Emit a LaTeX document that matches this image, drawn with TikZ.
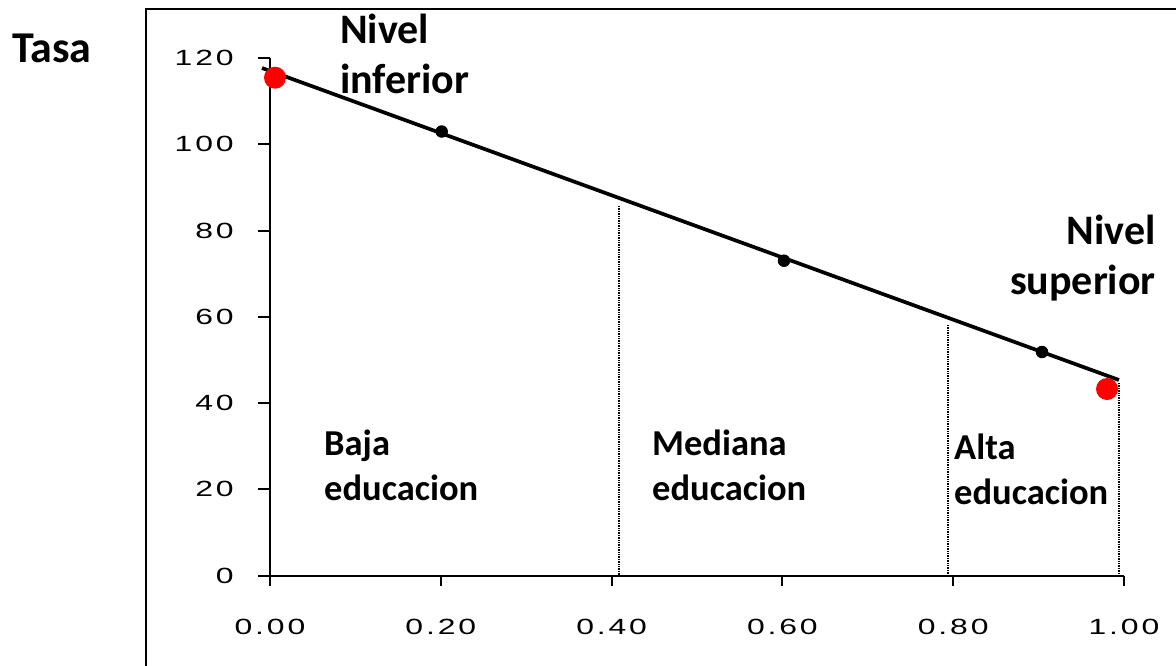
\documentclass[tikz,border=0pt]{standalone}
\usepackage{fontspec}
\setmainfont{Carlito}
\newfontfamily\tickfont[LetterSpace=9]{Liberation Sans}
\begin{document}
\begin{tikzpicture}[x=1pt,y=-1pt,
  frame/.style={line width=2.5pt},
  axisline/.style={line width=2pt},
  mainline/.style={line width=3.7pt},
  guide/.style={line width=1.3pt,dash pattern=on 1.3pt off 1.1pt},
  blackdot/.style={circle,fill=black,inner sep=0pt,minimum size=12.5pt},
  reddot/.style={circle,fill=red,inner sep=0pt,minimum size=22pt},
  ticklab/.style={font=\tickfont\fontsize{22}{26}\selectfont,xscale=1.45,inner sep=0pt},
  biglab/.style={font=\bfseries\fontsize{42}{50}\selectfont,inner sep=0pt,align=left},
  midlab/.style={font=\bfseries\fontsize{36.5}{45}\selectfont,inner sep=0pt,align=left}]
\useasboundingbox (0,0) rectangle (1176,665);
\fill[white] (0,0) rectangle (1176,665);
\draw[frame] (146,9) rectangle (1200,700);
% axes
\coordinate (O) at (270,575.7);
\coordinate (Ytop) at (270,57.7);
\coordinate (Xend) at (1124,575.7);
\draw[axisline] (Ytop) -- (O) -- (Xend);
\foreach \v/\lab in {0/0,20/20,40/40,60/60,80/80,100/100,120/120}{
  \coordinate (yt\v) at (270,{575.7-4.315*\v});
  \draw[axisline] (yt\v) -- ++(-12,0);
  \node[ticklab,anchor=east] (yl\v) at (234,{575.7-4.315*\v}) {\lab};
}
\foreach \v/\lab in {0/0.00,2/0.20,4/0.40,6/0.60,8/0.80,10/1.00}{
  \coordinate (xt\v) at ({270+85.4*\v},575.7);
  \draw[axisline] (xt\v) -- ++(0,10);
  \node[ticklab] (xl\v) at ({270+85.4*\v},627) {\lab};
}
% guides
\coordinate (g1a) at (619,206);
\coordinate (g1b) at (619,575.7);
\coordinate (g2a) at (948,325);
\coordinate (g2b) at (948,575.7);
\coordinate (g3a) at (1119,383);
\coordinate (g3b) at (1119,575.7);
\draw[guide] (g1a) -- (g1b);
\draw[guide] (g2a) -- (g2b);
\draw[guide] (g3a) -- (g3b);
% main line
\coordinate (L0) at (262,68);
\coordinate (L1) at (1119,380);
\draw[mainline] (L0) -- (L1);
\node[blackdot] (b1) at (441.7,131.5) {};
\node[blackdot] (b2) at (784,260.7) {};
\node[blackdot] (b3) at (1042,352) {};
\node[reddot] (r1) at (275,77.7) {};
\node[reddot] (r2) at (1107,389) {};
% labels
\node[font=\bfseries\fontsize{44}{50}\selectfont,inner sep=0pt,anchor=base west] (tasa) at (12,62) {Tasa};
\node[biglab,anchor=base west] (ninf) at (340,93) {Nivel\\inferior};
\node[biglab,align=right,anchor=base east] (nsup) at (1156,294) {Nivel\\superior};
\node[midlab,anchor=base west] (baja) at (324,500) {Baja\\educacion};
\node[midlab,anchor=base west] (med) at (652,500) {Mediana\\educacion};
\node[midlab,anchor=base west] (alta) at (954,504) {Alta\\educacion};
\end{tikzpicture}
\end{document}
